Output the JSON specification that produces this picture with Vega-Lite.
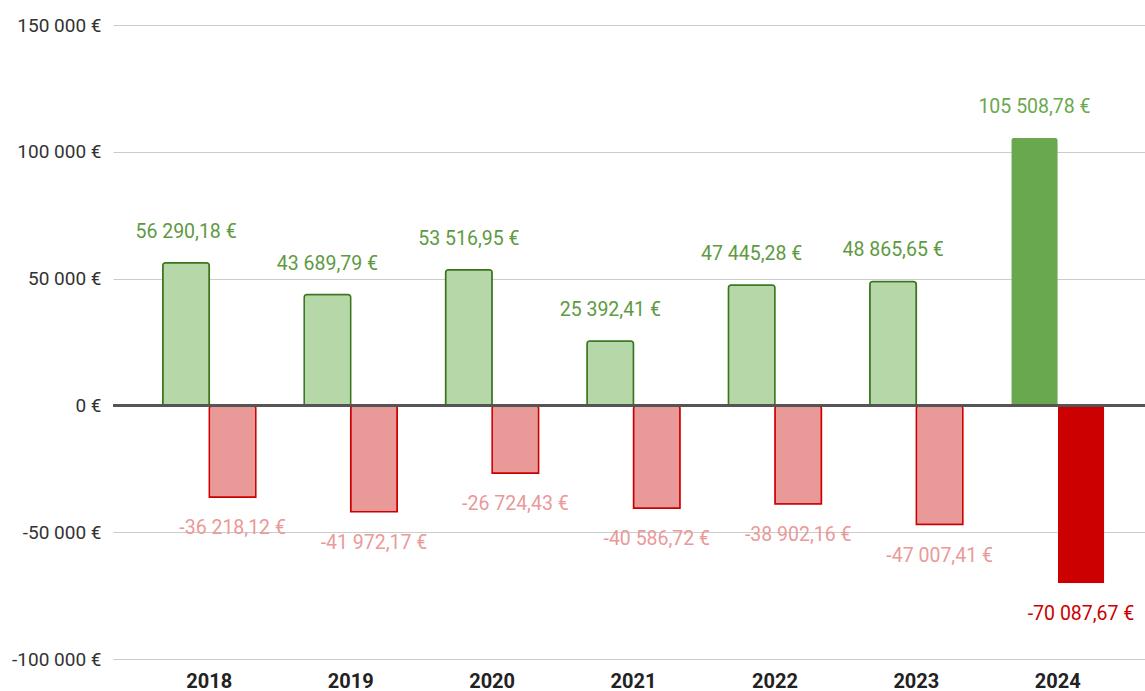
{
  "$schema": "https://vega.github.io/schema/vega-lite/v6.json",
  "width": 1032,
  "height": 634,
  "autosize": {"type": "none"},
  "padding": {"left": 113, "top": 25, "right": 0, "bottom": 32},
  "background": "white",
  "config": {
    "locale": {"number": {"decimal": ",", "thousands": " ", "grouping": [3], "currency": ["", " €"], "minus": "-"}},
    "view": {"stroke": null},
    "font": "Roboto"
  },
  "data": {"values": [
    {"year": "2018", "type": "Entrées", "value": 56290.18},
    {"year": "2018", "type": "Sorties", "value": -36218.12},
    {"year": "2019", "type": "Entrées", "value": 43689.79},
    {"year": "2019", "type": "Sorties", "value": -41972.17},
    {"year": "2020", "type": "Entrées", "value": 53516.95},
    {"year": "2020", "type": "Sorties", "value": -26724.43},
    {"year": "2021", "type": "Entrées", "value": 25392.41},
    {"year": "2021", "type": "Sorties", "value": -40586.72},
    {"year": "2022", "type": "Entrées", "value": 47445.28},
    {"year": "2022", "type": "Sorties", "value": -38902.16},
    {"year": "2023", "type": "Entrées", "value": 48865.65},
    {"year": "2023", "type": "Sorties", "value": -47007.41},
    {"year": "2024", "type": "Entrées", "value": 105508.78},
    {"year": "2024", "type": "Sorties", "value": -70087.67}
  ]},
  "encoding": {
    "x": {"field": "year", "type": "nominal", "title": null,
      "scale": {"paddingInner": 0.342, "paddingOuter": 0.32, "align": 0.55},
      "axis": {"labelAngle": 0, "labelFont": "Roboto", "labelFontSize": 20, "labelFontWeight": "bold", "labelColor": "#222222", "ticks": false, "domain": false, "labelPadding": 12, "grid": false}},
    "xOffset": {"field": "type", "type": "nominal", "sort": ["Entrées", "Sorties"], "scale": {"paddingInner": 0, "paddingOuter": 0}},
    "y": {"field": "value", "type": "quantitative", "title": null,
      "scale": {"domain": [-100000, 150000], "nice": false, "zero": false},
      "axis": {"values": [-100000, -50000, 0, 50000, 100000, 150000], "format": "$,.0f", "labelFont": "Roboto", "labelFontSize": 19, "labelColor": "#333333", "ticks": false, "domain": false, "labelPadding": 12, "gridColor": "#cccccc", "gridWidth": 1}}
  },
  "layer": [
    {
      "transform": [{"filter": "datum.year != '2024' && datum.value > 0"}],
      "mark": {"type": "bar", "strokeWidth": 1.5, "cornerRadiusEnd": 3, "fill": "#b6d7a8", "stroke": "#38761d"}
    },
    {
      "transform": [{"filter": "datum.year != '2024' && datum.value < 0"}],
      "mark": {"type": "bar", "strokeWidth": 1.5, "cornerRadiusEnd": 3, "fill": "#ea9999", "stroke": "#cc0000"}
    },
    {
      "transform": [{"filter": "datum.year == '2024' && datum.value > 0"}],
      "mark": {"type": "bar", "cornerRadiusEnd": 3, "fill": "#6aa84f"}
    },
    {
      "transform": [{"filter": "datum.year == '2024' && datum.value < 0"}],
      "mark": {"type": "bar", "cornerRadiusEnd": 3, "fill": "#cc0000"}
    },
    {
      "mark": {"type": "rule", "color": "#555555", "strokeWidth": 1.5},
      "encoding": {"y": {"datum": 0}, "x": {"value": 0}, "x2": {"value": 1032}, "xOffset": null}
    },
    {
      "transform": [{"filter": "datum.value > 0"}],
      "mark": {"type": "text", "baseline": "middle", "align": "center", "dy": -31, "font": "Roboto", "fontSize": 19.5},
      "encoding": {
        "text": {"field": "value", "type": "quantitative", "format": "$,.2f"},
        "color": {"condition": {"test": "datum.year == '2024'", "value": "#6aa84f"}, "value": "#5e9a42"}
      }
    },
    {
      "transform": [{"filter": "datum.value < 0"}],
      "mark": {"type": "text", "baseline": "middle", "align": "center", "dy": 31, "font": "Roboto", "fontSize": 19.5},
      "encoding": {
        "text": {"field": "value", "type": "quantitative", "format": "$,.2f"},
        "color": {"condition": {"test": "datum.year == '2024'", "value": "#cc0000"}, "value": "#ea9999"}
      }
    }
  ]
}
